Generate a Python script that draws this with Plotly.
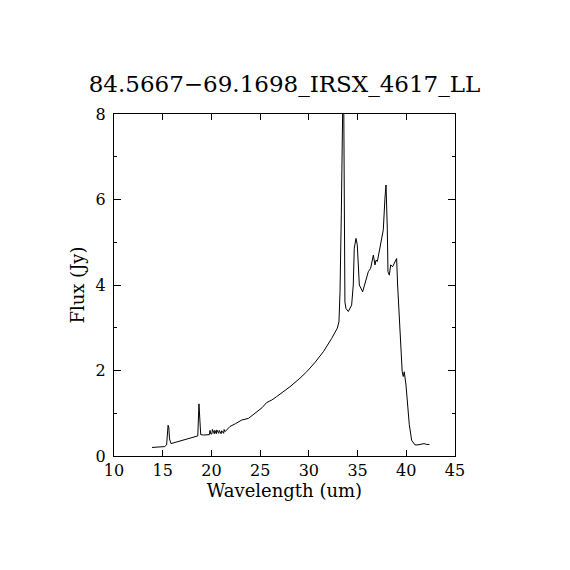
import plotly.graph_objects as go

# spectrum, wavelength in um, flux in Jy
wavelength = [13.9, 14.5, 15.2, 15.4, 15.55, 15.62, 15.7, 15.85, 16.5, 17.5,
              18.4, 18.6, 18.72, 18.8, 18.9, 19.2, 19.8, 19.85, 19.95, 20.05,
              20.1, 20.3, 20.35, 20.5, 20.55, 20.75, 20.8, 21.0, 21.05, 21.25,
              21.3, 21.4, 21.9, 22.5, 23.1, 23.8, 24.5, 25.2, 25.67, 26.2,
              26.7, 27.4, 28.06, 29.09, 29.78, 30.6, 31.49, 32.34, 32.92, 33.09,
              33.2, 33.33, 33.43, 33.5, 33.58, 33.7, 33.81, 34.05, 34.39, 34.56,
              34.66, 34.84, 34.97, 35.18, 35.52, 35.76, 36.1, 36.34, 36.62, 36.79,
              36.89, 37.03, 37.23, 37.47, 37.64, 37.81, 37.92, 38.05, 38.12, 38.26,
              38.4, 38.6, 38.84, 39.01, 39.11, 39.35, 39.58, 39.69, 39.79, 39.97,
              40.11, 40.31, 40.55, 40.89, 41.2, 41.58, 41.82, 42.1, 42.37]
flux = [0.20, 0.21, 0.22, 0.26, 0.72, 0.68, 0.40, 0.29, 0.33, 0.39,
        0.44, 0.47, 1.22, 0.95, 0.50, 0.49, 0.50, 0.60, 0.51, 0.52,
        0.62, 0.52, 0.60, 0.52, 0.61, 0.53, 0.60, 0.52, 0.59, 0.53,
        0.62, 0.57, 0.69, 0.76, 0.84, 0.88, 1.00, 1.13, 1.25, 1.31,
        1.39, 1.50, 1.62, 1.82, 1.97, 2.18, 2.44, 2.75, 2.99, 3.14,
        3.84, 5.64, 7.2, 8.6, 8.3, 3.6, 3.45, 3.38, 3.53, 4.0,
        4.86, 5.09, 4.94, 4.0, 3.84, 4.04, 4.31, 4.39, 4.70, 4.47,
        4.58, 4.55, 4.78, 5.09, 5.29, 6.03, 6.34, 5.33, 4.31, 4.23,
        4.47, 4.43, 4.55, 4.62, 4.0, 2.91, 1.97, 1.86, 1.97, 1.66,
        1.19, 0.73, 0.37, 0.26, 0.26, 0.27, 0.29, 0.27, 0.27]

title = "84.5667\u221269.1698_IRSX_4617_LL"
font = "DejaVu Serif"

fig = go.Figure(go.Scatter(x=wavelength, y=flux, mode="lines",
                           line=dict(color="black", width=1)))

# page sits ~8px in from the window edge, margins account for it
fig.update_layout(
    width=570, height=570,
    margin=dict(l=106, r=123, t=106, b=122),
    paper_bgcolor="white", plot_bgcolor="white",
    showlegend=False,
    font=dict(family=font, size=16, color="black"),
    title=dict(text=title, x=0.5, xref="paper", y=1 - 76 / 570, yanchor="middle",
               font=dict(size=23)),
)
fig.update_xaxes(
    range=[10, 45], tick0=10, dtick=5, ticks="inside", ticklen=6,
    showline=True, linecolor="black", linewidth=1, mirror="allticks",
    showgrid=False, zeroline=False, tickcolor="black",
    title=dict(text="Wavelength (um)", standoff=2, font=dict(size=18)),
)
fig.update_yaxes(
    range=[0, 8], tick0=0, dtick=2, ticks="inside", ticklen=7,
    showline=True, linecolor="black", linewidth=1, mirror="allticks",
    showgrid=False, zeroline=False, tickcolor="black", ticklabelstandoff=4,
    minor=dict(dtick=1, ticks="inside", ticklen=3, tickcolor="black", showgrid=False),
    title=dict(text="Flux (Jy)", standoff=6, font=dict(size=18)),
)

fig.write_html("out.html")
